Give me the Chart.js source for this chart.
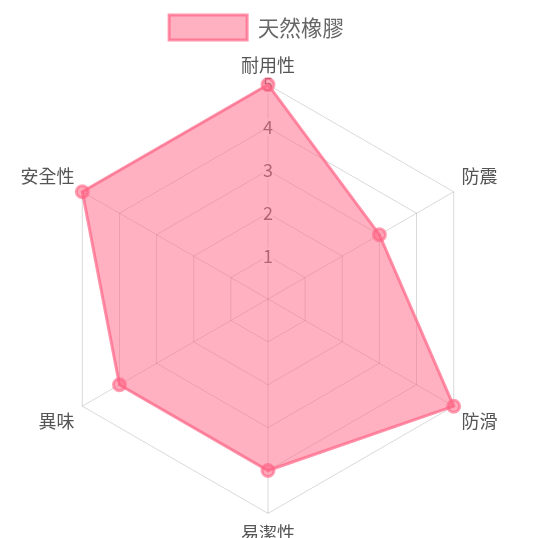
<!DOCTYPE html>
<html>
<head>
<meta charset="utf-8">
<script src="https://cdn.jsdelivr.net/npm/chart.js@4"></script>
<style>
  html, body { margin: 0; padding: 0; background: #fff; overflow: hidden; }
  #box { width: 513px; height: 545px; }
</style>
</head>
<body>
<div id="box"><canvas id="graficoRadar"></canvas></div>
<script>
const categorias = ['耐用性', '防震', '防滑', '易潔性', '異味', '安全性'];
const tituloSerie = '天然橡膠';
const valores = [5, 3, 5, 4, 4, 5];
const marcas = [1, 2, 3, 4, 5];

Chart.defaults.font.family = '"Noto Sans CJK TC", "Noto Sans", sans-serif';
Chart.defaults.font.size = 18;
Chart.defaults.color = '#666';

const elementoGrafico = document.getElementById('graficoRadar');

// un poco de espacio extra debajo de la leyenda, y la leyenda corrida a la izquierda
const ajusteLeyenda = {
  id: 'ajusteLeyenda',
  beforeInit(chart) {
    const fitOriginal = chart.legend.fit;
    chart.legend.fit = function () {
      fitOriginal.call(this);
      this.height += 5;
    };
  },
  afterUpdate(chart) {
    chart.legend.left -= 4;
    chart.legend.right -= 4;
  }
};

const grafico = new Chart(elementoGrafico, {
  type: 'radar',
  data: {
    labels: categorias,
    datasets: [{
      label: tituloSerie,
      data: valores,
      backgroundColor: 'rgba(255, 99, 132, 0.5)',
      borderColor: 'rgba(255, 99, 132, 0.7)',
      borderWidth: 3,
      pointBackgroundColor: 'rgba(255, 99, 132, 0.55)',
      pointBorderColor: 'rgba(255, 99, 132, 0.6)',
      pointRadius: 6
    }]
  },
  plugins: [ajusteLeyenda],
  options: {
    responsive: true,
    maintainAspectRatio: false,
    animation: false,
    layout: { padding: { top: 3, left: 8 } },
    plugins: {
      legend: {
        labels: { boxWidth: 78, boxHeight: 25, padding: 12, font: { size: 21.5 } }
      },
      tooltip: { enabled: false }
    },
    scales: {
      r: {
        min: 0,
        max: 5,
        afterBuildTicks: (escala) => {
          escala.ticks = [0].concat(marcas).map(v => ({ value: v }));
        },
        ticks: { font: { size: 18, lineHeight: 1 }, color: '#666', backdropPadding: 0 },
        pointLabels: { font: { size: 18 }, color: '#555', padding: 0 },
        grid: { color: 'rgba(0,0,0,0.15)' },
        angleLines: { color: 'rgba(0,0,0,0.15)' }
      }
    }
  }
});
</script>
</body>
</html>
